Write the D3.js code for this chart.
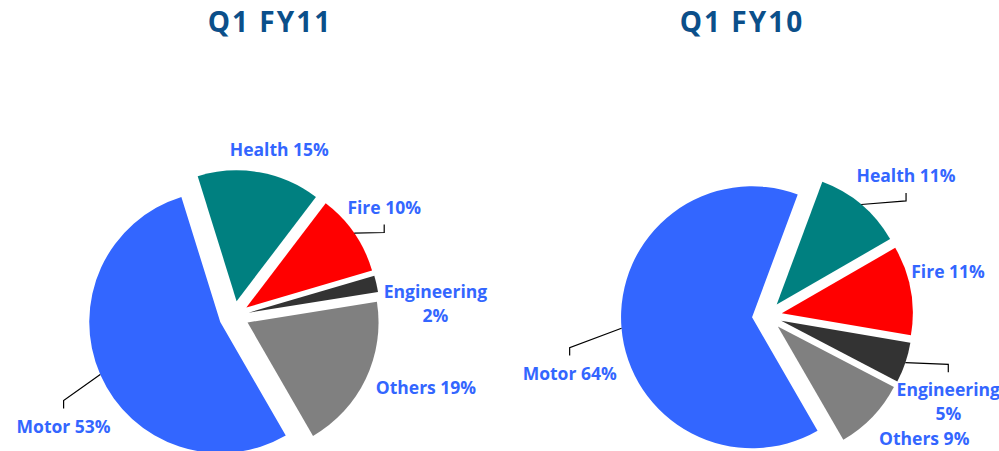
<!DOCTYPE html>
<html>
<head>
<meta charset="utf-8">
<script src="https://cdn.jsdelivr.net/npm/d3@7"></script>
<style>
  html, body { margin: 0; padding: 0; background: #fff; }
  svg { display: block; }
  text { font-family: 'Open Sans', sans-serif; font-weight: 700; }
</style>
</head>
<body>
<div id="chart"></div>
<script>
// Data
const categories = ['Motor', 'Health', 'Fire', 'Engineering', 'Others'];
const fy11Values = [53, 15, 10, 2, 19];
const fy10Values = [64, 11, 11, 5, 9];
const titles = ['Q1 FY11', 'Q1 FY10'];

const colors = ['#3366ff', '#008080', '#ff0000', '#333333', '#808080'];

const width = 999,
    height = 451,
    radius = 131,
    explode = 15,
    labelRadius = radius + explode + 40,
    lineGap = 24;

// Label nudges (dx, dy from the label arc centroid) and whether a leader line is drawn
const panels = [
  {
    title: titles[0], values: fy11Values, cx: 234, cy: 316, titleX: 270,
    nudges: [[0, 42], [13, 23], [-3, 3], [20, 23], [24, -2]],
    leaders: [true, false, true, false, false]
  },
  {
    title: titles[1], values: fy10Values, cx: 767, cy: 316, titleX: 742,
    nudges: [[-12, 48], [19, 8], [-2, -5], [5, 21], [23, 0]],
    leaders: [true, true, false, true, false]
  }
];

const toRad = (deg) => deg * Math.PI / 180;

let svg = d3.select('#chart').append('svg')
    .attr('width', width)
    .attr('height', height);

const pie = d3.pie()
    .sort(null)
    .value((d) => d.value)
    .startAngle(toRad(150))
    .endAngle(toRad(510));

const arc = d3.arc()
    .innerRadius(0)
    .outerRadius(radius);

const edgeArc = d3.arc()
    .innerRadius(radius + explode)
    .outerRadius(radius + explode);

const labelArc = d3.arc()
    .innerRadius(labelRadius)
    .outerRadius(labelRadius);

const offsetOf = (d) => {
  const mid = (d.startAngle + d.endAngle) / 2;
  return [Math.sin(mid) * explode, -Math.cos(mid) * explode];
};

panels.forEach((p) => {
  svg.append('text')
      .attr('x', p.titleX)
      .attr('y', 32)
      .attr('text-anchor', 'middle')
      .style('font-size', '28px')
      .style('fill', '#0b4f8a')
      .style('letter-spacing', '2px')
      .text(p.title);

  const data = categories.map((c, i) => ({ name: c, value: p.values[i] }));
  const arcs = pie(data);

  let g = svg.append('g')
      .attr('transform', 'translate(' + p.cx + ',' + p.cy + ')');

  // Exploded slices
  g.selectAll('path.slice')
      .data(arcs)
      .enter()
      .append('path')
      .attr('class', 'slice')
      .attr('d', arc)
      .attr('transform', (d) => 'translate(' + offsetOf(d) + ')')
      .style('fill', (d, i) => colors[i]);

  // Labels
  arcs.forEach((d, i) => {
    const c = labelArc.centroid(d);
    const x = c[0] + p.nudges[i][0],
        y = c[1] + p.nudges[i][1];
    const pct = d.data.value + '%';
    const lines = d.data.name === 'Engineering' ? [d.data.name, pct] : [d.data.name + ' ' + pct];

    let t = g.append('text')
        .attr('text-anchor', 'middle')
        .style('font-size', '17.5px')
        .style('fill', '#3366ff');
    lines.forEach((l, k) => {
      t.append('tspan')
          .attr('x', x)
          .attr('y', y + k * lineGap)
          .text(l);
    });

    if (p.leaders[i]) {
      const start = edgeArc.centroid(d);
      const boxTop = y - 24,
          boxBottom = y + (lines.length - 1) * lineGap + 11;
      let end, elbow;
      if (start[1] > boxBottom) {
        end = [x, boxBottom];
        elbow = [x, boxBottom + 8];
      } else {
        end = [x, boxTop];
        elbow = [x, boxTop - 8];
      }
      g.append('path')
          .attr('d', d3.line()([start, elbow, end]))
          .style('fill', 'none')
          .style('stroke', '#000')
          .style('stroke-width', 1.2);
    }
  });
});
</script>
</body>
</html>
